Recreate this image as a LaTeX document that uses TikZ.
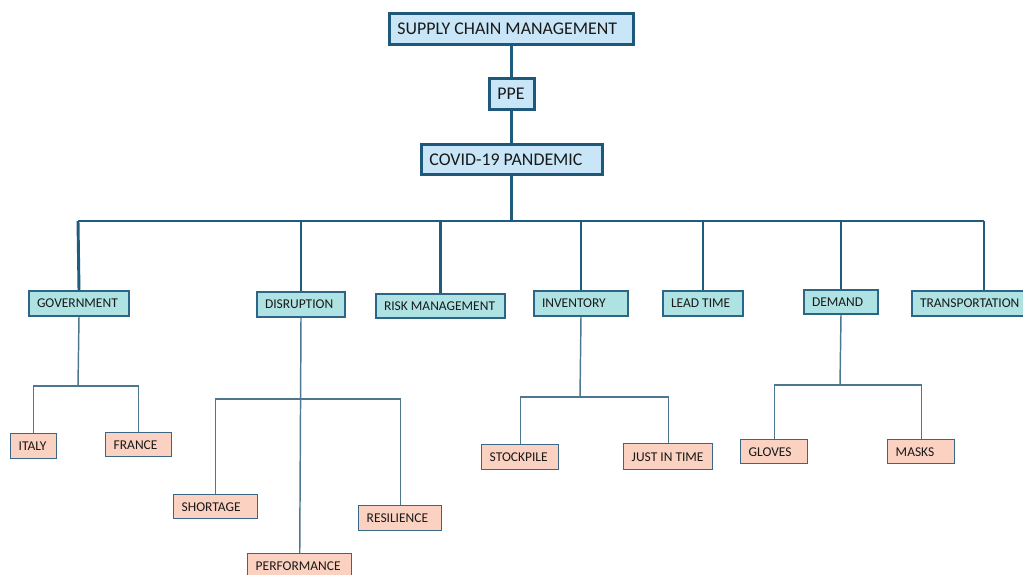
\documentclass[tikz,border=0pt]{standalone}
\usepackage{fontspec}
\setmainfont{Carlito}
\definecolor{lonefill}{HTML}{C8E6F8}
\definecolor{loneline}{HTML}{1F587A}
\definecolor{ltwofill}{HTML}{AFE3E3}
\definecolor{ltwoline}{HTML}{2B6686}
\definecolor{lthreefill}{HTML}{FBD1C1}
\definecolor{lthreeline}{HTML}{3B6787}
\definecolor{busline}{HTML}{1F5B7D}
\definecolor{thinline}{HTML}{4D7690}
\newcommand\mylbox[2]{\makebox[#1][l]{#2}}
\tikzset{
  bx/.style={inner xsep=6pt, inner ysep=0pt, anchor=north west, text=black!90},
  lone/.style={bx, draw=loneline, fill=lonefill, line width=2.2pt, font=\fontsize{13.4}{15}\selectfont},
  ltwo/.style={bx, draw=ltwoline, fill=ltwofill, line width=1.5pt, font=\fontsize{10.1}{12}\selectfont},
  lthree/.style={bx, draw=lthreeline, fill=lthreefill, line width=1.1pt, font=\fontsize{10.1}{12}\selectfont},
  busc/.style={draw=busline, line width=2.2pt},
  thinc/.style={draw=thinline, line width=1.1pt},
}
\begin{document}
\begin{tikzpicture}[x=0.75pt,y=-0.75pt]
\useasboundingbox (0,0) rectangle (1023,574);
\clip (0,0) rectangle (1023,574);
% level 1
\node[lone, minimum height=23.25pt] (scm) at (388,12) {\mylbox{171pt}{SUPPLY CHAIN MANAGEMENT}};
\node[lone, minimum height=23.25pt] (ppe) at (488,77) {\mylbox{21.75pt}{PPE}};
\node[lone, minimum height=22.5pt] (covid) at (420,143) {\mylbox{123.75pt}{COVID-19 PANDEMIC}};
% level 2
\node[ltwo, minimum height=18.75pt] (gov) at (28,290) {\mylbox{63pt}{GOVERNMENT}};
\node[ltwo, minimum height=18.75pt] (dis) at (256,291) {\mylbox{54pt}{DISRUPTION}};
\node[ltwo, minimum height=18pt] (risk) at (375,293) {\mylbox{84.75pt}{RISK MANAGEMENT}};
\node[ltwo, minimum height=18.75pt] (inv) at (533,290) {\mylbox{58.5pt}{INVENTORY}};
\node[ltwo, minimum height=18.75pt] (lead) at (662,290) {\mylbox{48pt}{LEAD TIME}};
\node[ltwo, minimum height=18pt] (dem) at (803,289) {\mylbox{43.5pt}{DEMAND}};
\node[ltwo, minimum height=18.75pt] (trans) at (911,290) {\mylbox{72pt}{TRANSPORTATION}};
% level 3
\node[lthree, minimum height=18.75pt] (italy) at (10,433) {\mylbox{22.5pt}{ITALY}};
\node[lthree, minimum height=18pt] (france) at (105,432) {\mylbox{37.5pt}{FRANCE}};
\node[lthree, minimum height=18pt] (short) at (173,494) {\mylbox{51pt}{SHORTAGE}};
\node[lthree, minimum height=18pt] (perf) at (247,553) {\mylbox{66pt}{PERFORMANCE}};
\node[lthree, minimum height=18.75pt] (res) at (358,505) {\mylbox{50.25pt}{RESILIENCE}};
\node[lthree, minimum height=18.75pt] (stock) at (481,444) {\mylbox{45.75pt}{STOCKPILE}};
\node[lthree, minimum height=19.5pt] (jit) at (623,443) {\mylbox{54.75pt}{JUST IN TIME}};
\node[lthree, minimum height=18pt] (gloves) at (740,439) {\mylbox{38.25pt}{GLOVES}};
\node[lthree, minimum height=18pt] (masks) at (887,439) {\mylbox{38.25pt}{MASKS}};
% junction coordinates
\coordinate (busL) at (78,221);
\coordinate (busR) at (984,221);
\coordinate (govj) at (78,386);
\coordinate (disj) at (300,399);
\coordinate (invj) at (580,397);
\coordinate (demj) at (840,385);
% main connectors
\draw[busc] (scm.south) -- (scm.south |- ppe.north);
\draw[busc] (scm.south |- ppe.south) -- (scm.south |- covid.north);
\draw[busc] (scm.south |- covid.south) -- (scm.south |- busL);
\draw[busc] (busL) -- (busR);
\draw[busc] (busL) -- (gov.north);
\draw[busc] (dis.north |- busL) -- (dis.north);
\draw[busc] (risk.north |- busL) -- (risk.north);
\draw[busc] (inv.north |- busL) -- (inv.north);
\draw[busc] (lead.north |- busL) -- (lead.north);
\draw[busc] (dem.north |- busL) -- (dem.north);
\draw[busc] (busR) -- (busR |- trans.north);
% sub connectors
\draw[thinc] (gov.south) -- (govj);
\draw[thinc] (italy.north) |- (france.north |- govj) -- (france.north);
\draw[thinc] (dis.south) -- (perf.north);
\draw[thinc] (short.north) |- (res.north |- disj) -- (res.north);
\draw[thinc] (inv.south) -- (invj);
\draw[thinc] (stock.north) |- (jit.north |- invj) -- (jit.north);
\draw[thinc] (dem.south) -- (demj);
\draw[thinc] (gloves.north) |- (masks.north |- demj) -- (masks.north);
\end{tikzpicture}
\end{document}
